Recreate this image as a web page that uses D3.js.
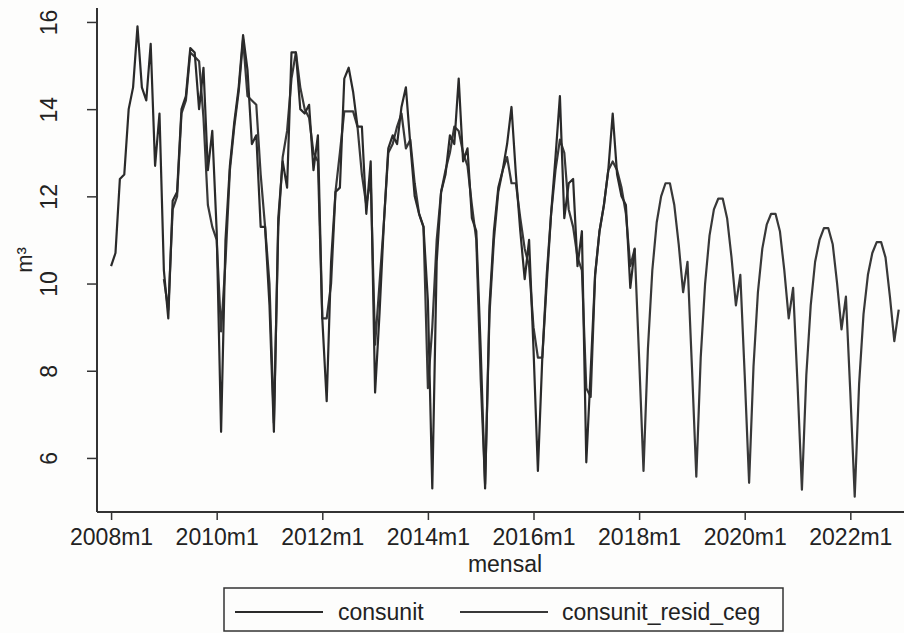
<!DOCTYPE html>
<html>
<head>
<meta charset="utf-8">
<script src="https://cdn.jsdelivr.net/npm/d3@7"></script>
<style>
  body { margin: 0; background: #fdfdfc; }
  text { font-family: "Liberation Sans", Arial, sans-serif; fill: #222; }
</style>
</head>
<body>
<div id="chart"></div>
<script>
// monthly series, month 0 = 2008m1
const consunit = [
  10.4, 10.7, 12.4, 12.5, 14.0, 14.5, 15.9, 14.5, 14.2, 15.5, 12.7, 13.9, // 2008
  10.3, 9.2, 11.9, 12.1, 14.0, 14.3, 15.4, 15.3, 14.0, 14.95, 12.6, 13.5, // 2009
  11.2, 6.6, 11.0, 12.7, 13.7, 14.5, 15.7, 14.9, 13.2, 13.4, 11.3, 11.3,  // 2010
  9.5, 6.6, 11.5, 12.8, 12.2, 15.3, 15.3, 14.0, 13.9, 14.1, 12.6, 13.4,   // 2011
  9.2, 7.3, 10.5, 12.1, 12.2, 14.7, 14.95, 14.4, 13.6, 13.6, 11.6, 12.8,  // 2012
  7.5, 9.3, 11.4, 13.1, 13.4, 13.2, 14.05, 14.5, 13.2, 12.0, 11.6, 11.3,  // 2013
  9.6, 5.3, 10.5, 12.1, 12.5, 13.4, 13.2, 14.7, 12.8, 13.1, 11.5, 11.2,   // 2014
  8.5, 5.3, 9.5, 11.2, 12.2, 12.6, 13.2, 14.05, 12.5, 11.2, 10.1, 11.0,   // 2015
  8.5, 5.7, 8.3, 10.0, 11.6, 12.9, 14.3, 11.5, 12.3, 12.4, 10.4, 11.2,    // 2016
  5.9, 8.0, 10.2, 11.2, 11.8, 12.6, 13.9, 12.5, 12.0, 11.8, 9.9, 10.8     // 2017
];
const consunitStart = 0;

// starts 2009m1 (month 12)
const consunitResidCeg = [
  10.1, 9.4, 11.7, 12.0, 13.9, 14.2, 15.3, 15.2, 15.1, 13.8, 11.8, 11.3,  // 2009
  11.0, 8.9, 10.5, 12.6, 13.6, 14.4, 15.6, 14.3, 14.2, 14.1, 12.5, 11.3,  // 2010
  10.0, 6.8, 11.3, 12.9, 13.5, 14.7, 15.3, 14.5, 14.0, 13.8, 13.0, 12.8,  // 2011
  9.2, 9.2, 10.0, 12.1, 13.0, 13.95, 13.95, 13.95, 13.6, 12.5, 11.8, 12.4, // 2012
  8.6, 10.0, 11.4, 13.0, 13.2, 13.6, 13.9, 13.1, 13.3, 12.3, 11.6, 11.3,  // 2013
  7.6, 9.0, 11.0, 12.1, 12.6, 13.0, 13.6, 13.5, 13.0, 12.7, 11.8, 11.0,   // 2014
  7.8, 5.4, 9.3, 11.0, 12.1, 12.6, 12.9, 12.3, 12.3, 11.5, 10.8, 10.4,    // 2015
  9.0, 8.3, 8.3, 10.2, 11.6, 12.6, 13.3, 13.0, 11.7, 11.3, 10.6, 10.3,    // 2016
  7.6, 7.4, 10.2, 11.2, 11.8, 12.6, 12.8, 12.6, 12.2, 11.6, 10.4, 10.8,   // 2017
  8.3, 5.7, 8.5, 10.3, 11.4, 12.0, 12.3, 12.3, 11.8, 10.9, 9.8, 10.5,     // 2018
  8.1, 5.57, 8.3, 10.0, 11.1, 11.7, 11.95, 11.95, 11.5, 10.6, 9.5, 10.2,  // 2019
  7.9, 5.43, 8.1, 9.8, 10.8, 11.35, 11.6, 11.6, 11.2, 10.3, 9.2, 9.9,     // 2020
  7.7, 5.27, 7.9, 9.5, 10.5, 11.0, 11.27, 11.27, 10.9, 10.0, 8.95, 9.7,   // 2021
  7.5, 5.11, 7.7, 9.3, 10.2, 10.7, 10.95, 10.95, 10.6, 9.7, 8.68, 9.4     // 2022
];
const residStart = 12;

const xTickMonths = [0, 24, 48, 72, 96, 120, 144, 168];
const xTickLabels = ["2008m1", "2010m1", "2012m1", "2014m1", "2016m1", "2018m1", "2020m1", "2022m1"];
const yTicks = [6, 8, 10, 12, 14, 16];
const seriesNames = ["consunit", "consunit_resid_ceg"];

const svgWidth = 904;
const svgHeight = 633;

const plot = { left: 97, right: 904, top: 8, bottom: 512 };

const svg = d3.select("#chart")
  .append("svg")
  .attr("width", svgWidth)
  .attr("height", svgHeight);

const x = d3.scaleLinear()
  .domain([-3.2, 180.2])
  .range([plot.left, plot.right]);

const y = d3.scaleLinear()
  .domain([4.76, 16.32])
  .range([plot.bottom, plot.top]);

const line = d3.line()
  .x(d => x(d.m))
  .y(d => y(d.v));

const obsData = consunit.map((v, i) => ({ m: consunitStart + i, v: v }));
const residData = consunitResidCeg.map((v, i) => ({ m: residStart + i, v: v }));

svg.append("path")
  .datum(residData)
  .attr("fill", "none")
  .attr("stroke", "#383838")
  .attr("stroke-width", 2.2)
  .attr("stroke-linejoin", "round")
  .attr("d", line);

svg.append("path")
  .datum(obsData)
  .attr("fill", "none")
  .attr("stroke", "#2a2a2a")
  .attr("stroke-width", 2.2)
  .attr("stroke-linejoin", "round")
  .attr("d", line);

// axes
const xAxis = d3.axisBottom(x)
  .tickValues(xTickMonths)
  .tickFormat((d, i) => xTickLabels[i])
  .tickSize(8)
  .tickPadding(9);

const yAxis = d3.axisLeft(y)
  .tickValues(yTicks)
  .tickSize(10)
  .tickPadding(0);

const gx = svg.append("g")
  .attr("transform", `translate(0, ${plot.bottom})`)
  .call(xAxis);
gx.select(".domain").attr("d", `M${plot.left},0H${plot.right}`);

const gy = svg.append("g")
  .attr("transform", `translate(${plot.left}, 0)`)
  .call(yAxis);
gy.select(".domain").attr("d", `M0,${plot.top}V${plot.bottom}`);

svg.selectAll(".domain").attr("stroke", "#333").attr("stroke-width", 2);
svg.selectAll(".tick line").attr("stroke", "#333").attr("stroke-width", 1.5);

gx.selectAll("text")
  .style("font-size", "23px")
  .style("font-family", "Liberation Sans, Arial, sans-serif")
  .attr("fill", "#222");

gy.selectAll(".tick text")
  .attr("x", null).attr("dy", null)
  .attr("transform", "translate(-40, 0) rotate(-90)")
  .attr("text-anchor", "middle")
  .style("font-size", "23px")
  .style("font-family", "Liberation Sans, Arial, sans-serif")
  .attr("fill", "#222");

// axis titles
svg.append("text")
  .attr("x", 505)
  .attr("y", 572)
  .attr("text-anchor", "middle")
  .style("font-size", "23px")
  .text("mensal");

svg.append("text")
  .attr("transform", "translate(32, 260) rotate(-90)")
  .attr("text-anchor", "middle")
  .style("font-size", "22px")
  .text("m³");

// legend
const legend = svg.append("g");
legend.append("rect")
  .attr("x", 224).attr("y", 588)
  .attr("width", 559).attr("height", 43)
  .attr("fill", "none")
  .attr("stroke", "#333")
  .attr("stroke-width", 1.5);

const legendItems = [
  { name: seriesNames[0], x1: 235, x2: 323, tx: 338, color: "#2a2a2a" },
  { name: seriesNames[1], x1: 460, x2: 548, tx: 562, color: "#383838" }
];
legendItems.forEach(item => {
  legend.append("line")
    .attr("x1", item.x1).attr("x2", item.x2)
    .attr("y1", 612).attr("y2", 612)
    .attr("stroke", item.color)
    .attr("stroke-width", 2);
  legend.append("text")
    .attr("x", item.tx)
    .attr("y", 620)
    .style("font-size", "23px")
    .text(item.name);
});
</script>
</body>
</html>
